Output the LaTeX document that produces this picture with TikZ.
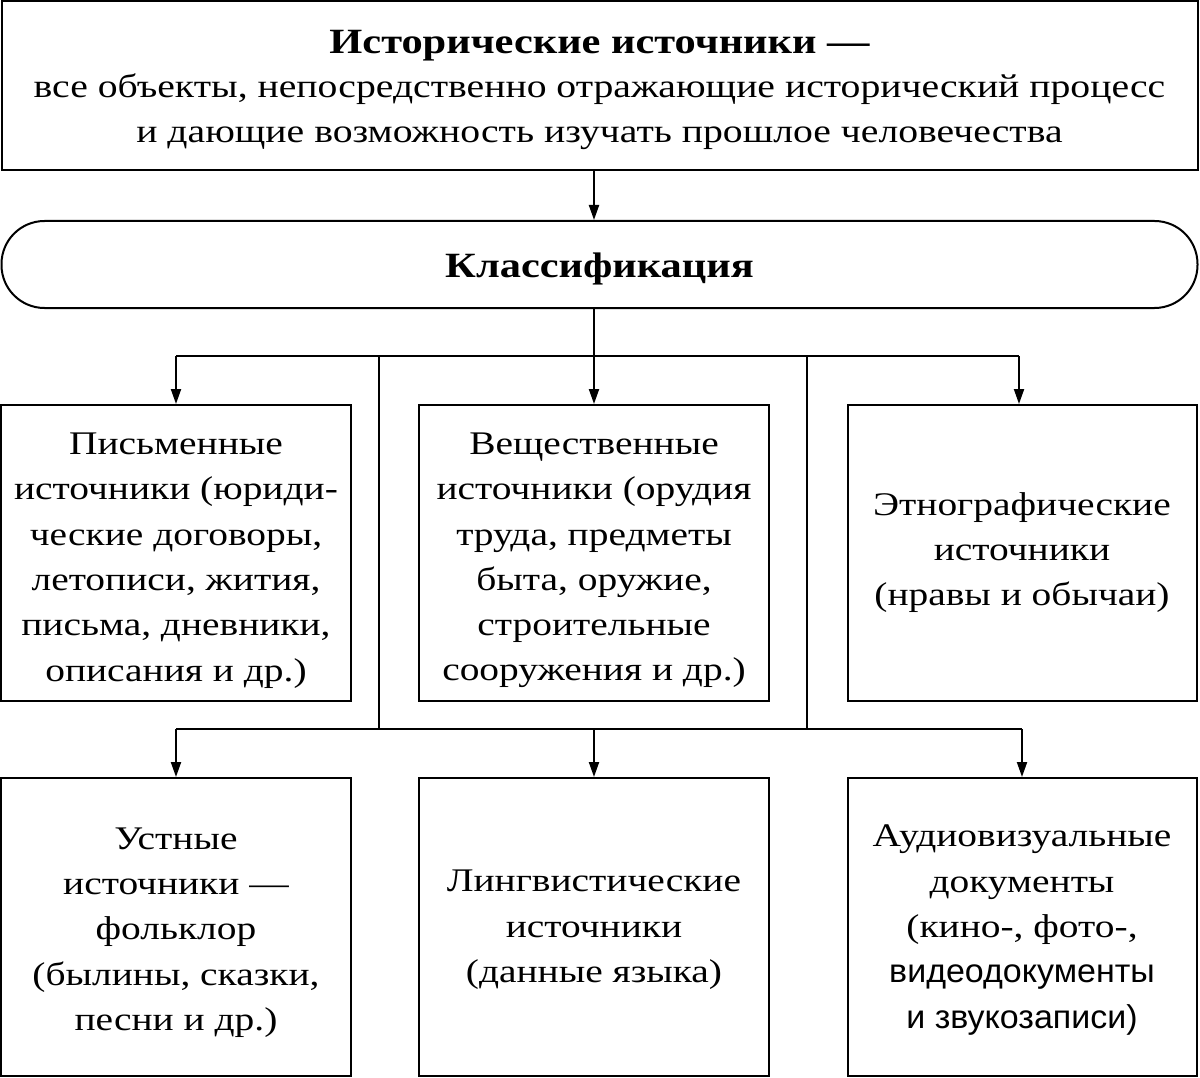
\documentclass[tikz,border=0pt]{standalone}
\usepackage{fontspec}
\setmainfont{Liberation Serif}[FakeStretch=1.195]
\newfontfamily\sansf{Liberation Sans}[FakeStretch=1.03]
\usetikzlibrary{arrows.meta}
\tikzset{
  box/.style={draw, line width=2pt, inner sep=0pt},
  txt/.style={align=center, inner sep=0pt, font=\fontsize{33}{45.3}\selectfont},
  toptxt/.style={align=center, inner sep=0pt, font=\fontsize{33.2}{44.5}\selectfont},
  boldtxt/.style={align=center, inner sep=0pt, font=\fontsize{35.5}{44.5}\selectfont\bfseries},
  lnk/.style={line width=2pt},
  arr/.style={line width=2pt, -{Triangle[length=15pt,width=10pt]}}
}
\begin{document}
\begin{tikzpicture}[x=1pt,y=-1pt]
\useasboundingbox (0,0) rectangle (1200,1078);
% boxes
\node[box, minimum width=1196pt, minimum height=169pt] (top) at (599.5,86) {};
\node[box, rounded corners=43pt, minimum width=1196pt, minimum height=87pt] (stad) at (599.5,264.5) {};
\node[box, minimum width=350pt, minimum height=296pt] (a1) at (176,553) {};
\node[box, minimum width=350pt, minimum height=296pt] (b1) at (594,553) {};
\node[box, minimum width=349pt, minimum height=296pt] (c1) at (1022,553) {};
\node[box, minimum width=350pt, minimum height=298pt] (a2) at (176,927) {};
\node[box, minimum width=350pt, minimum height=298pt] (b2) at (594,927) {};
\node[box, minimum width=349pt, minimum height=298pt] (c2) at (1022,927) {};
% texts
\node[toptxt] (topt) at ([yshift=-3.5pt]top.center)
  {{\fontsize{35.5}{44.5}\selectfont\bfseries Исторические источники —}\\
   все объекты, непосредственно отражающие исторический процесс\\
   и дающие возможность изучать прошлое человечества};
\node[boldtxt] (stadt) at ([yshift=-4pt]stad.center) {Классификация};
\node[txt] (a1t) at ([yshift=-7.5pt]a1.center)
  {Письменные\\ источники (юриди-\\ ческие договоры,\\ летописи, жития,\\ письма, дневники,\\ описания и др.)};
\node[txt] (b1t) at ([yshift=-7.5pt]b1.center)
  {Вещественные\\ источники (орудия\\ труда, предметы\\ быта, оружие,\\ строительные\\ сооружения и др.)};
\node[txt] (c1t) at ([yshift=0.5pt]c1.center)
  {Этнографические\\ источники\\ (нравы и обычаи)};
\node[txt] (a2t) at ([yshift=-5.5pt]a2.center)
  {Устные\\ источники —\\ фольклор\\ (былины, сказки,\\ песни и др.)};
\node[txt] (b2t) at ([yshift=-3pt]b2.center)
  {Лингвистические\\ источники\\ (данные языка)};
\node[txt] (c2t) at ([yshift=-3pt]c2.center)
  {Аудиовизуальные\\ документы\\ (кино-, фото-,\\ {\sansf видеодокументы}\\ {\sansf и звукозаписи)}};
% buses
\coordinate (h1) at (0,356);
\coordinate (h2) at (0,729);
\coordinate (v1t) at (379,356);
\coordinate (v1b) at (379,729);
\coordinate (v2t) at (807,356);
\coordinate (v2b) at (807,729);
\draw[arr] (top.south -| b1.north) -- (stad.north -| b1.north);
\draw[arr] (stad.south -| b1.north) -- (b1.north);
\draw[lnk] (a1.north |- h1) -- ([xshift=-3pt]c1.north |- h1);
\draw[arr] (a1.north |- h1) -- (a1.north);
\draw[arr] ([xshift=-3pt]c1.north |- h1) -- ([xshift=-3pt]c1.north);
\draw[lnk] (v1t) -- (v1b);
\draw[lnk] (v2t) -- (v2b);
\draw[lnk] (a2.north |- h2) -- (c2.north |- h2);
\draw[arr] (a2.north |- h2) -- (a2.north);
\draw[arr] (b2.north |- h2) -- (b2.north);
\draw[arr] (c2.north |- h2) -- (c2.north);
\end{tikzpicture}
\end{document}
